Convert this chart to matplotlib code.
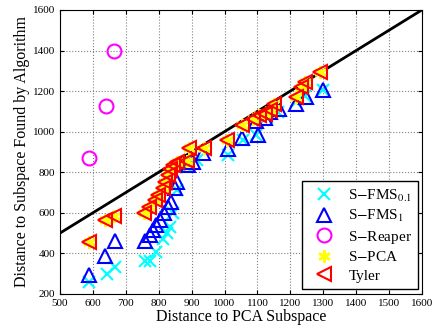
import numpy as np
import matplotlib.pyplot as plt

plt.rcParams['font.family'] = ['Liberation Serif', 'DejaVu Serif']
plt.rcParams['mathtext.fontset'] = 'stix'

# Donnees
fms01_x = [589, 642, 667, 758, 773, 793, 813, 824, 834, 844, 855, 885, 915, 1011, 1056, 1095, 1128, 1163, 1216, 1244, 1300]
fms01_y = [257, 300, 332, 360, 360, 409, 470, 499, 532, 598, 712, 827, 860, 884, 957, 982, 1072, 1097, 1145, 1178, 1203]

fms1_x = [589, 637, 667, 758, 773, 783, 793, 803, 816, 828, 836, 849, 857, 890, 905, 935, 1011, 1052, 1102, 1097, 1122, 1137, 1165, 1218, 1249, 1300]
fms1_y = [295, 388, 463, 463, 491, 516, 540, 565, 598, 630, 655, 720, 753, 835, 851, 895, 912, 971, 982, 1052, 1069, 1097, 1113, 1134, 1170, 1206]

reaper_x = [589, 640, 665]
reaper_y = [871, 1124, 1396]

tyler_x = [588, 637, 665, 755, 770, 788, 798, 812, 819, 829, 834, 842, 856, 885, 893, 937, 1006, 1052, 1085, 1105, 1122, 1137, 1150, 1216, 1233, 1244, 1289]
tyler_y = [454, 565, 584, 598, 630, 663, 687, 720, 753, 786, 818, 835, 851, 856, 917, 917, 957, 1031, 1064, 1080, 1088, 1105, 1137, 1170, 1222, 1244, 1293]

# S-PCA quasiment confondu avec Tyler
spca_x = tyler_x
spca_y = tyler_y

fig = plt.figure(figsize=(4.35, 3.31), dpi=100)
ax = fig.add_axes([0.138, 0.112, 0.832, 0.858])

ax.plot([500, 1600], [500, 1600], color='black', lw=2, zorder=3)

ax.plot(fms01_x, fms01_y, 'x', color='cyan', ms=8, mew=1.5, label='S$-$FMS$_{0.1}$', zorder=4)
ax.plot(fms1_x, fms1_y, '^', color='blue', mfc='none', ms=10, mew=1.5, label='S$-$FMS$_1$', zorder=5)
ax.plot(reaper_x, reaper_y, 'o', color='magenta', mfc='none', ms=10, mew=1.5, label='S$-$Reaper', zorder=5)
ax.plot(spca_x, spca_y, marker=(6, 2, 0), ls='none', color='yellow', ms=9, mew=1.8, label='S$-$PCA', zorder=6)
ax.plot(tyler_x, tyler_y, '<', color='red', mfc='none', ms=10, mew=1.5, label='Tyler', zorder=7)

ax.set_xlim(500, 1600)
ax.set_ylim(200, 1600)
ax.set_xticks(np.arange(500, 1601, 100))
ax.set_yticks(np.arange(200, 1601, 200))
ax.tick_params(direction='in', top=True, right=True, labelsize=8, length=3)
ax.grid(True, linestyle=':', color='gray', lw=0.8)
ax.set_axisbelow(True)

ax.set_xlabel('Distance to PCA Subspace', fontsize=11.5, labelpad=1)
ax.set_ylabel('Distance to Subspace Found by Algorithm', fontsize=11.5, labelpad=2)

leg = ax.legend(loc='lower right', bbox_to_anchor=(0.99, 0.018), borderaxespad=0,
                fontsize=11, fancybox=False, framealpha=1, edgecolor='black',
                handletextpad=0.6, labelspacing=0.3, borderpad=0.4)
leg.get_frame().set_linewidth(1.0)

fig.savefig('out.png', dpi=100)
